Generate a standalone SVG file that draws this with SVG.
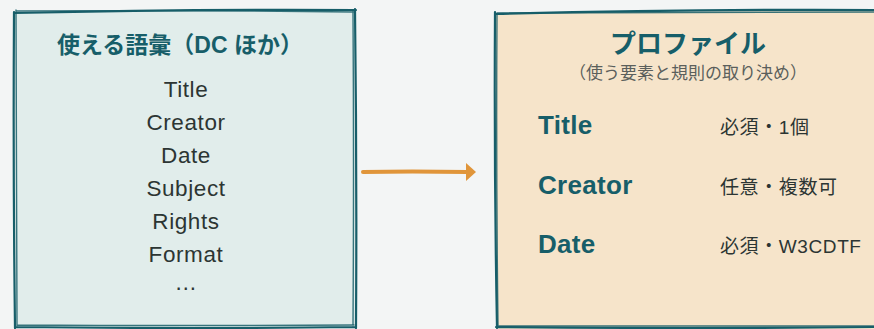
<svg xmlns="http://www.w3.org/2000/svg" width="874" height="329" viewBox="0 0 874 329">
  <defs>
    <style>
      .frame { fill: none; stroke: #175e69; stroke-width: 2.2; stroke-linecap: round; stroke-linejoin: round; }
      .frame2 { fill: none; stroke: #175e69; stroke-width: 1.4; stroke-linecap: round; opacity: 0.85; }
      .head { font-family: "Liberation Sans", "Noto Sans CJK JP", sans-serif; font-weight: bold; fill: #175e69; }
      .item { font-family: "Liberation Sans", "Noto Sans CJK JP", sans-serif; font-size: 22.5px; letter-spacing: 0.6px; fill: #2c3533; text-anchor: middle; }
      .sub { font-family: "Noto Sans CJK JP", sans-serif; font-size: 17px; fill: #5b5f5c; text-anchor: middle; }
      .key { font-family: "Liberation Sans", "Noto Sans CJK JP", sans-serif; font-weight: bold; font-size: 26px; letter-spacing: 0.3px; fill: #175e69; }
      .rule { font-family: "Liberation Sans", "Noto Sans CJK JP", sans-serif; font-size: 19px; letter-spacing: 0.6px; fill: #2c3533; }
    </style>
  </defs>

  <rect width="874" height="329" fill="#f3f5f5"/>

  <!-- vocabulary box -->
  <g id="vocabulary">
    <path d="M14 12 L356 10 L356 327 L15 327 Z" fill="#e1edeb"/>
    <path class="frame" d="M14 13 Q180 9 356 10 M355 9 Q357 170 356 328 M356 327 Q190 329 15 327 M15 328 Q13 170 14 12"/>
    <path class="frame2" d="M16 11 Q190 10 354 12 M353 11 Q354 170 353 326 M354 325 Q180 326 17 325 M17 326 Q16 170 16 10"/>
    <text class="head" x="180" y="53" font-size="23" text-anchor="middle">使える語彙（DC ほか）</text>
    <text class="item" x="186" y="97">Title</text>
    <text class="item" x="186" y="130">Creator</text>
    <text class="item" x="186" y="163">Date</text>
    <text class="item" x="186" y="196">Subject</text>
    <text class="item" x="186" y="229">Rights</text>
    <text class="item" x="186" y="262">Format</text>
    <text class="item" x="186" y="290">…</text>
  </g>

  <!-- profile box -->
  <g id="profile">
    <path d="M495 13 L876 10 L876 329 L496 329 Z" fill="#f6e4ca"/>
    <path class="frame" d="M495 14 Q690 9 876 10 M495 12 Q494 170 497 328 M496 327 Q690 329 876 327"/>
    <path class="frame2" d="M497 13 Q690 12 876 12 M497 13 Q496 170 498 326 M498 326 Q690 326 876 326"/>
    <text class="head" x="688" y="53" font-size="26" text-anchor="middle">プロファイル</text>
    <text class="sub" x="688" y="79">（使う要素と規則の取り決め）</text>
    <text class="key" x="538" y="134">Title</text>
    <text class="rule" x="720" y="134">必須・1個</text>
    <text class="key" x="538" y="194">Creator</text>
    <text class="rule" x="720" y="194">任意・複数可</text>
    <text class="key" x="538" y="253">Date</text>
    <text class="rule" x="720" y="253">必須・W3CDTF</text>
  </g>

  <!-- connectors -->
  <g id="connectors">
    <path d="M363 172 Q410 171 467 172" fill="none" stroke="#e0953a" stroke-width="4" stroke-linecap="round"/>
    <path d="M466 163 L476 172 L466 181 Z" fill="#e0953a"/>
  </g>
</svg>
